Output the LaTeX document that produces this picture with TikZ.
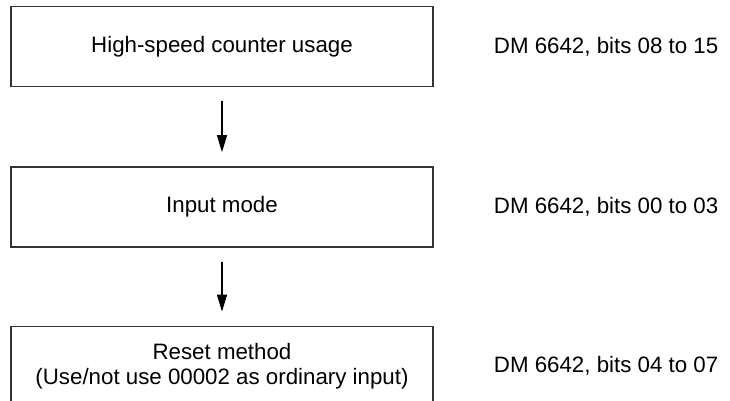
\documentclass[tikz,border=0pt]{standalone}
\usepackage{fontspec}
\setmainfont{Liberation Sans}
\usetikzlibrary{arrows.meta}
\usetikzlibrary{positioning}

\begin{document}
\begin{tikzpicture}[x=1pt,y=-1pt,
        stepbox/.style={draw=black!80, line width=1.4pt, minimum width=422pt,
          minimum height=80pt, align=center, inner sep=0pt,
          font=\fontsize{22.3}{25.5}\selectfont},
        dmlabel/.style={anchor=west, inner sep=0pt, font=\fontsize{22.3}{25.5}\selectfont},
        flow/.style={line width=1.3pt, -{Triangle[length=17pt,width=10pt]},
          shorten <=14pt, shorten >=14pt}]
        \useasboundingbox (0,0) rectangle (730,401);
        \node[stepbox] (usage) at (222,46.5) {High-speed counter usage};
        \node[stepbox, below=79pt of usage] (mode) {Input mode};
        \node[stepbox, below=78pt of mode] (reset) {Reset method\\(Use/not use 00002 as ordinary input)};
        % DM 6642 settings
        \node[dmlabel, right=60pt of usage] (dmusage) {DM 6642, bits 08 to 15};
        \node[dmlabel, right=60pt of mode] (dmmode) {DM 6642, bits 00 to 03};
        \node[dmlabel, right=60pt of reset] (dmreset) {DM 6642, bits 04 to 07};
        \draw[flow] (usage) -- (mode);
        \draw[flow] (mode) -- (reset);
\end{tikzpicture}
\end{document}
